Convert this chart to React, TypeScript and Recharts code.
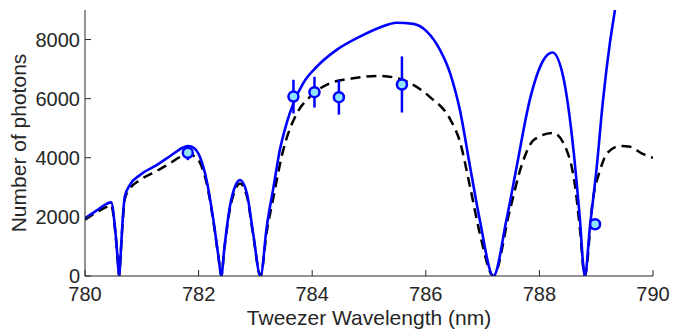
import { ComposedChart, Line, Scatter, ErrorBar, XAxis, YAxis } from "recharts";

const wavelengthTicks = [780, 782, 784, 786, 788, 790];
const photonTicks = [0, 2000, 4000, 6000, 8000];

// [wavelength nm, photons]
const fullModel: [number, number][] = [
  [780, 1950], [780.2, 2210], [780.38, 2440], [780.46, 2490], [780.53, 1600],
  [780.57, 700], [780.6, 0], [780.63, 800], [780.66, 1800], [780.7, 2680],
  [780.79, 3080], [780.97, 3420], [781.26, 3750], [781.5, 4060], [781.73, 4350],
  [781.82, 4400], [781.92, 4330], [782.02, 4040], [782.14, 3250], [782.26, 1900],
  [782.35, 650], [782.4, 0], [782.45, 880], [782.55, 2340], [782.64, 3020],
  [782.73, 3250], [782.85, 2800], [782.96, 1450], [783.09, 0], [783.2, 1670],
  [783.32, 3020], [783.43, 4260], [783.55, 5170], [783.67, 5850], [783.84, 6520],
  [784.08, 7080], [784.43, 7650], [784.84, 8100], [785.19, 8410], [785.49, 8570],
  [785.78, 8530], [786.02, 8270], [786.25, 7650], [786.43, 6850], [786.6, 5620],
  [786.78, 3690], [786.95, 1900], [787.19, 0], [787.42, 1900], [787.6, 3700],
  [787.83, 5950], [788.07, 7300], [788.23, 7560], [788.42, 6730], [788.6, 4260],
  [788.71, 2000], [788.8, 0], [788.89, 1660], [789.01, 3700], [789.12, 5950],
  [789.24, 7870], [789.33, 9000], [789.45, 10600],
];

// dashed black model curve
const dashedModel: [number, number][] = [
  [780, 1900], [780.2, 2150], [780.38, 2340], [780.46, 2400], [780.53, 1550],
  [780.57, 700], [780.6, 0], [780.63, 800], [780.66, 1750], [780.7, 2600],
  [780.79, 2950], [780.97, 3250], [781.26, 3550], [781.5, 3820], [781.73, 4080],
  [781.82, 4130], [781.92, 4060], [782.02, 3850], [782.14, 3150], [782.26, 1850],
  [782.35, 630], [782.4, 0], [782.45, 860], [782.55, 2250], [782.64, 2900],
  [782.73, 3130], [782.85, 2700], [782.96, 1400], [783.09, 0], [783.2, 1500],
  [783.31, 2600], [783.49, 4260], [783.73, 5500], [783.96, 6060], [784.31, 6520],
  [784.72, 6690], [785.19, 6770], [785.66, 6580], [786.07, 6060], [786.43, 5300],
  [786.6, 4550], [786.78, 3010], [786.95, 1450], [787.19, 0], [787.48, 2230],
  [787.68, 3700], [787.9, 4600], [788.24, 4840], [788.48, 4260], [788.63, 3010],
  [788.71, 1660], [788.8, 0], [788.94, 2570], [789.07, 3590], [789.19, 4150],
  [789.42, 4400], [789.6, 4370], [789.8, 4150], [790, 4000],
];

const measuredWavelength = [781.81, 783.67, 784.04, 784.47, 785.58, 788.98];
const measuredPhotons = [4170, 6070, 6220, 6050, 6480, 1750];
const measuredError = [250, 570, 520, 590, 950, 0];

const BLUE = "#0000ff";
const INK = "#262626";
const FONT = "'Liberation Sans', Arial, sans-serif";

const toRows = (pts: [number, number][]) => pts.map(([x, y]) => ({ x, y }));
const measured = measuredWavelength.map((x, i) => ({
  x,
  y: measuredPhotons[i],
  err: measuredError[i],
}));

const Dot = (p: any) => (
  <circle cx={p.cx} cy={p.cy} r={5} fill="#8fe4ff" stroke={BLUE} strokeWidth={2.5} />
);

export default function App() {
  const tickStyle = { fill: INK, fontSize: 20, fontFamily: FONT };
  return (
    <div style={{ position: "absolute", left: 0, top: 0, background: "#fff" }}>
      <ComposedChart width={686} height={329} margin={{ top: 10, right: 33, left: 0, bottom: 0 }}>
        <XAxis
          type="number"
          dataKey="x"
          domain={[780, 790]}
          ticks={wavelengthTicks}
          allowDataOverflow
          height={53}
          tickSize={-6}
          tickMargin={17}
          tick={tickStyle}
          stroke={INK}
          label={{
            value: "Tweezer Wavelength (nm)",
            position: "insideBottom",
            offset: 4,
            fill: INK,
            fontSize: 21,
            fontFamily: FONT,
          }}
        />
        <XAxis
          xAxisId="top"
          orientation="top"
          type="number"
          domain={[780, 790]}
          ticks={wavelengthTicks}
          height={0}
          tickSize={-6}
          tick={false}
          stroke={INK}
        />
        <YAxis
          type="number"
          domain={[0, 9000]}
          ticks={photonTicks}
          allowDataOverflow
          width={85}
          tickSize={-6}
          tickMargin={11}
          tick={tickStyle}
          stroke={INK}
          label={{
            value: "Number of photons",
            angle: -90,
            position: "center",
            dx: -24,
            fill: INK,
            fontSize: 21,
            fontFamily: FONT,
          }}
        />
        <YAxis
          yAxisId="right"
          orientation="right"
          type="number"
          domain={[0, 9000]}
          ticks={photonTicks}
          width={0}
          tickSize={-6}
          tick={false}
          stroke={INK}
        />
        <Line
          data={toRows(dashedModel)}
          dataKey="y"
          type="monotone"
          stroke="#000"
          strokeWidth={2.5}
          strokeDasharray="10 6"
          dot={false}
          isAnimationActive={false}
        />
        <Line
          data={toRows(fullModel)}
          dataKey="y"
          type="monotone"
          stroke={BLUE}
          strokeWidth={2.6}
          dot={false}
          isAnimationActive={false}
        />
        <Scatter data={measured} dataKey="y" shape={Dot} isAnimationActive={false}>
          <ErrorBar dataKey="err" direction="y" width={0} stroke={BLUE} strokeWidth={2.5} />
        </Scatter>
      </ComposedChart>
    </div>
  );
}
